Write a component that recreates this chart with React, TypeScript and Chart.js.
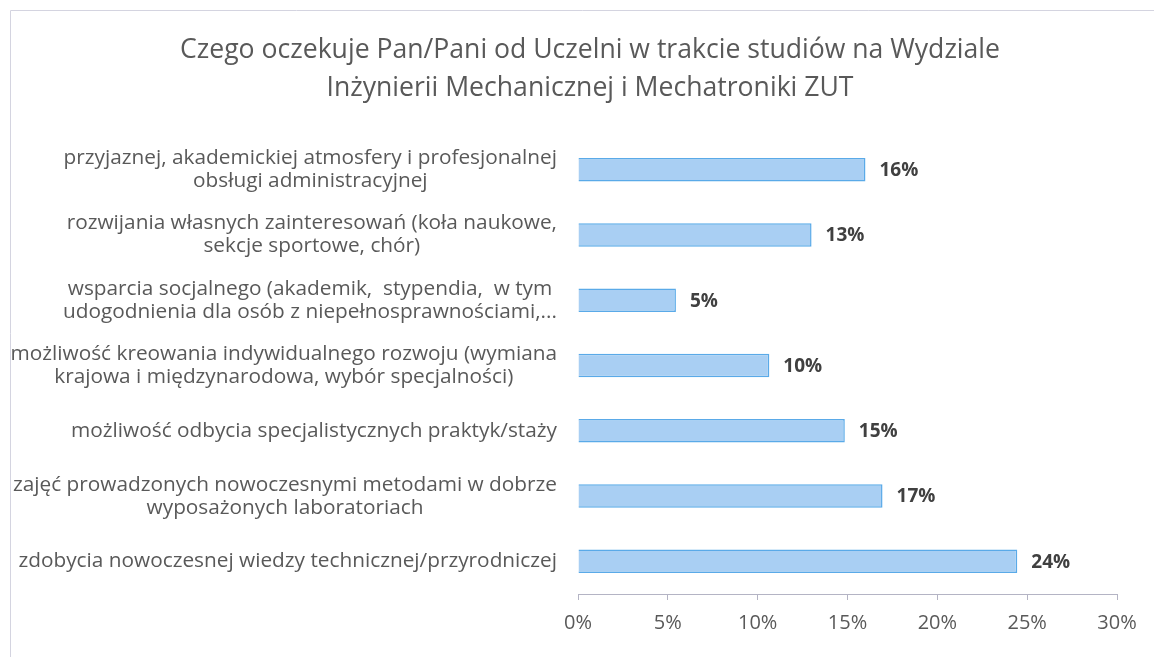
import React, { useEffect, useRef } from "react";
import { Chart, registerables } from "chart.js";

Chart.register(...registerables);

const titleLines = [
  "Czego oczekuje Pan/Pani od Uczelni w trakcie studiów na Wydziale",
  "Inżynierii Mechanicznej i Mechatroniki ZUT",
];

const categories: string[][] = [
  ["przyjaznej, akademickiej atmosfery i profesjonalnej", "obsługi administracyjnej"],
  ["rozwijania własnych zainteresowań (koła naukowe,", "sekcje sportowe, chór)"],
  ["wsparcia socjalnego (akademik,  stypendia,  w tym", "udogodnienia dla osób z niepełnosprawnościami,..."],
  ["możliwość kreowania indywidualnego rozwoju (wymiana", "krajowa i międzynarodowa, wybór specjalności)"],
  ["możliwość odbycia specjalistycznych praktyk/staży"],
  ["zajęć prowadzonych nowoczesnymi metodami w dobrze", "wyposażonych laboratoriach"],
  ["zdobycia nowoczesnej wiedzy technicznej/przyrodniczej"],
];

const values = [16.0, 13.0, 5.45, 10.65, 14.85, 16.95, 24.45];
const valueLabels = ["16%", "13%", "5%", "10%", "15%", "17%", "24%"];

const xTicks = [0, 5, 10, 15, 20, 25, 30];

const FONT = "'Open Sans', sans-serif";
const TEXT = "#595959";

const framePlugin = {
  id: "frame",
  beforeDraw(chart: any) {
    const ctx = chart.ctx;
    ctx.save();
    ctx.strokeStyle = "#d4d4e0";
    ctx.lineWidth = 1;
    ctx.beginPath();
    ctx.moveTo(10.5, chart.height);
    ctx.lineTo(10.5, 10.5);
    ctx.lineTo(chart.width, 10.5);
    ctx.stroke();
    ctx.restore();
  },
};

const categoryLabelPlugin = {
  id: "categoryLabels",
  afterDraw(chart: any) {
    const ctx = chart.ctx;
    const yScale = chart.scales.y;
    const right = chart.chartArea.left - 21;
    const lineH = 23;
    ctx.save();
    ctx.font = `20.8px ${FONT}`;
    ctx.fillStyle = TEXT;
    ctx.textBaseline = "middle";
    ctx.textAlign = "center";
    categories.forEach((lines, i) => {
      const cy = yScale.getPixelForValue(i);
      const widths = lines.map((l) => ctx.measureText(l).width);
      const maxW = Math.max(...widths);
      const cx = right - maxW / 2;
      const start = cy - ((lines.length - 1) * lineH) / 2;
      lines.forEach((l, j) => {
        ctx.fillText(l, cx, start + j * lineH);
      });
    });
    ctx.restore();
  },
};

const valueLabelPlugin = {
  id: "valueLabels",
  afterDatasetsDraw(chart: any) {
    const ctx = chart.ctx;
    const meta = chart.getDatasetMeta(0);
    ctx.save();
    ctx.font = `bold 19px ${FONT}`;
    ctx.fillStyle = "#404040";
    ctx.textBaseline = "middle";
    ctx.textAlign = "left";
    meta.data.forEach((bar: any, i: number) => {
      ctx.fillText(valueLabels[i], bar.x + 14, bar.y + 1);
    });
    ctx.restore();
  },
};

export default function App() {
  const ref = useRef<HTMLCanvasElement>(null);

  useEffect(() => {
    document.body.style.margin = "0";
    const canvas = ref.current!;
    const chart = new Chart(canvas, {
      type: "bar",
      data: {
        labels: categories.map((c) => c.join(" ")),
        datasets: [
          {
            data: values,
            backgroundColor: "#a9cff3",
            borderColor: "#5aaae8",
            borderWidth: 1.5,
            barPercentage: 0.36,
            categoryPercentage: 1,
          },
        ],
      },
      options: {
        indexAxis: "y",
        responsive: false,
        animation: false,
        layout: { padding: { left: 63, right: 37, top: 0, bottom: 11 } },
        plugins: {
          legend: { display: false },
          tooltip: { enabled: false },
          title: {
            display: true,
            text: titleLines,
            color: TEXT,
            font: { family: FONT, size: 26.6, weight: "normal", lineHeight: 38 / 26.6 },
            padding: { top: 31, bottom: 30 },
          },
        },
        scales: {
          x: {
            min: 0,
            max: 30,
            afterBuildTicks(scale: any) {
              scale.ticks = xTicks.map((v) => ({ value: v }));
            },
            ticks: {
              callback: (v: any) => `${v}%`,
              color: TEXT,
              font: { family: FONT, size: 20 },
              padding: 11,
              maxRotation: 0,
            },
            grid: {
              drawOnChartArea: false,
              drawTicks: true,
              tickLength: 6,
              color: "#b4b4c4",
            },
            border: { display: true, color: "#b4b4c4" },
          },
          y: {
            afterFit(scale: any) {
              scale.width = 515;
            },
            ticks: { display: false },
            grid: { display: false },
            border: { display: false },
          },
        },
      },
      plugins: [framePlugin, categoryLabelPlugin, valueLabelPlugin],
    });
    return () => chart.destroy();
  }, []);

  return <canvas ref={ref} width={1154} height={657} style={{ display: "block" }} />;
}
